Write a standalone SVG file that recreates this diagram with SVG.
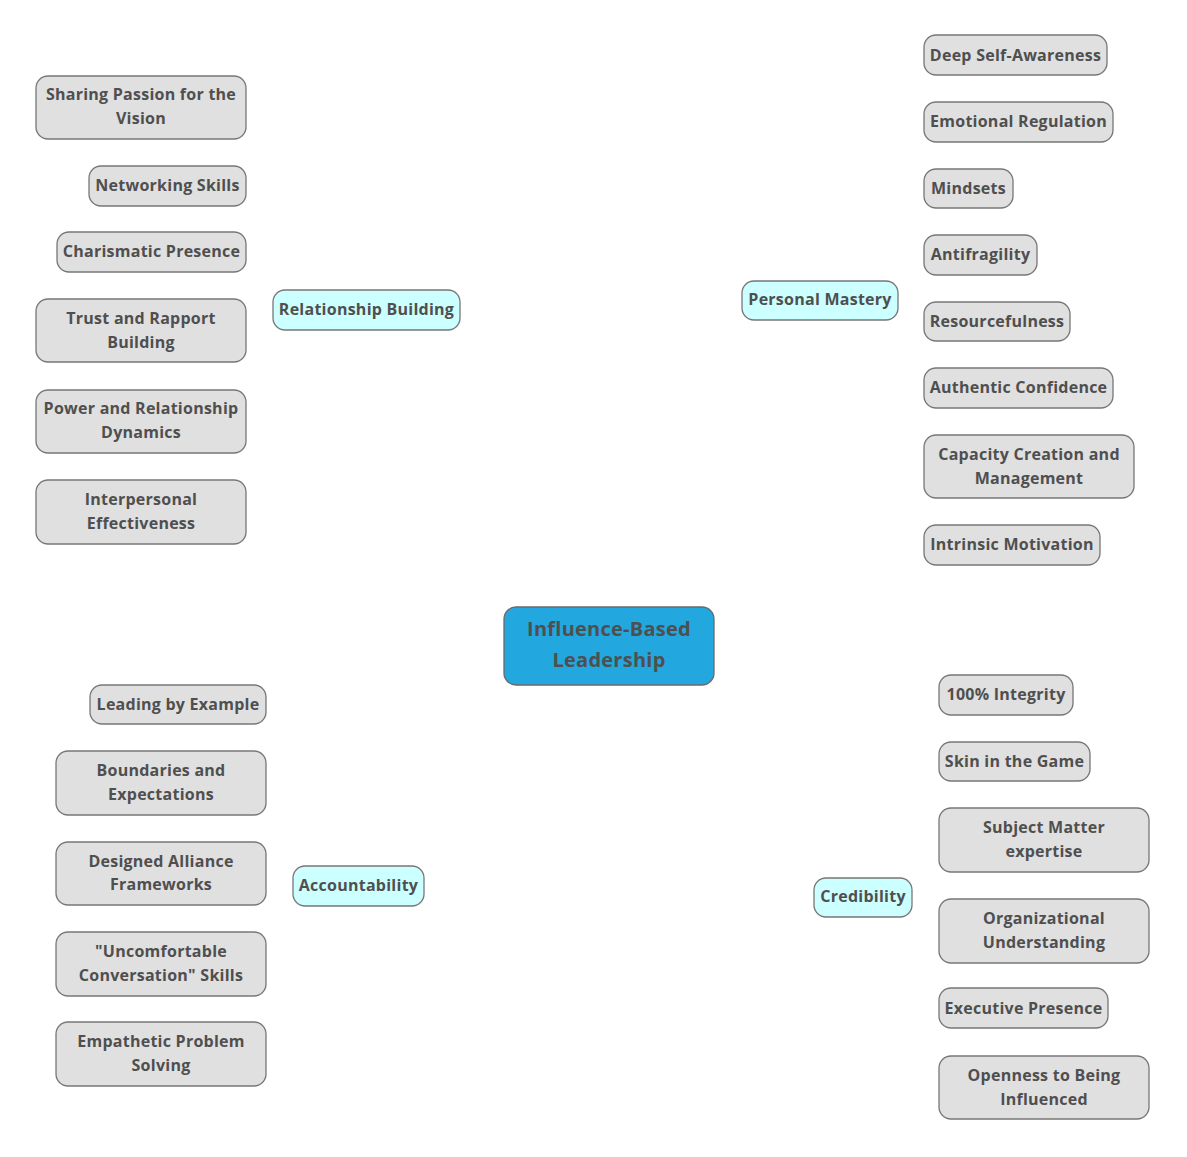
<svg xmlns="http://www.w3.org/2000/svg" width="1187" height="1157" viewBox="0 0 1187 1157">
<style>
.leaf rect{fill:#e0e0e0;stroke:#777777;stroke-width:1.3}
.branch rect{fill:#ccffff;stroke:#777777;stroke-width:1.3}
.root rect{fill:#22a7df;stroke:#6a6a6a;stroke-width:1.3}
text{font-family:"Open Sans","Noto Sans","DejaVu Sans",sans-serif;font-weight:bold;font-size:16px;fill:#4f4f4f;text-anchor:middle;letter-spacing:0.25px}
.root text{font-size:20px}
</style>
<rect width="1187" height="1157" fill="#ffffff"/>
<g id="connectors"></g>
<g id="root" class="root"><rect x="504" y="607" width="210" height="78" rx="12"/><text x="609" y="636">Influence-Based</text><text x="609" y="667">Leadership</text></g>
<g id="relationship-building" class="branch"><rect x="273" y="290" width="187" height="40" rx="12"/><text x="366.5" y="315">Relationship Building</text></g>
<g id="personal-mastery" class="branch"><rect x="742" y="281" width="156" height="39" rx="12"/><text x="820" y="305">Personal Mastery</text></g>
<g id="accountability" class="branch"><rect x="293" y="866" width="131" height="40" rx="12"/><text x="358.5" y="891">Accountability</text></g>
<g id="credibility" class="branch"><rect x="814" y="878" width="98" height="39" rx="12"/><text x="863" y="902">Credibility</text></g>

<g id="sharing-passion" class="leaf"><rect x="36" y="76" width="210" height="63" rx="12"/><text x="141" y="100">Sharing Passion for the</text><text x="141" y="124">Vision</text></g>
<g id="networking-skills" class="leaf"><rect x="89" y="166" width="157" height="40" rx="12"/><text x="167.5" y="191">Networking Skills</text></g>
<g id="charismatic-presence" class="leaf"><rect x="57" y="232" width="189" height="40" rx="12"/><text x="151.5" y="257">Charismatic Presence</text></g>
<g id="trust-rapport" class="leaf"><rect x="36" y="299" width="210" height="63" rx="12"/><text x="141" y="324">Trust and Rapport</text><text x="141" y="348">Building</text></g>
<g id="power-dynamics" class="leaf"><rect x="36" y="390" width="210" height="63" rx="12"/><text x="141" y="414">Power and Relationship</text><text x="141" y="438">Dynamics</text></g>
<g id="interpersonal" class="leaf"><rect x="36" y="480" width="210" height="64" rx="12"/><text x="141" y="505">Interpersonal</text><text x="141" y="529">Effectiveness</text></g>

<g id="deep-self-awareness" class="leaf"><rect x="924" y="35" width="183" height="40" rx="12"/><text x="1015.5" y="61">Deep Self-Awareness</text></g>
<g id="emotional-regulation" class="leaf"><rect x="924" y="102" width="189" height="40" rx="12"/><text x="1018.5" y="127">Emotional Regulation</text></g>
<g id="mindsets" class="leaf"><rect x="924" y="169" width="89" height="39" rx="12"/><text x="968.5" y="194">Mindsets</text></g>
<g id="antifragility" class="leaf"><rect x="924" y="235" width="113" height="40" rx="12"/><text x="980.5" y="260">Antifragility</text></g>
<g id="resourcefulness" class="leaf"><rect x="924" y="302" width="146" height="39" rx="12"/><text x="997" y="327">Resourcefulness</text></g>
<g id="authentic-confidence" class="leaf"><rect x="924" y="368" width="189" height="40" rx="12"/><text x="1018.5" y="393">Authentic Confidence</text></g>
<g id="capacity-creation" class="leaf"><rect x="924" y="435" width="210" height="63" rx="12"/><text x="1029" y="460">Capacity Creation and</text><text x="1029" y="484">Management</text></g>
<g id="intrinsic-motivation" class="leaf"><rect x="924" y="525" width="176" height="40" rx="12"/><text x="1012" y="550">Intrinsic Motivation</text></g>

<g id="leading-by-example" class="leaf"><rect x="90" y="685" width="176" height="39" rx="12"/><text x="178" y="710">Leading by Example</text></g>
<g id="boundaries" class="leaf"><rect x="56" y="751" width="210" height="64" rx="12"/><text x="161" y="776">Boundaries and</text><text x="161" y="800">Expectations</text></g>
<g id="designed-alliance" class="leaf"><rect x="56" y="842" width="210" height="63" rx="12"/><text x="161" y="867">Designed Alliance</text><text x="161" y="890">Frameworks</text></g>
<g id="uncomfortable-conversation" class="leaf"><rect x="56" y="932" width="210" height="64" rx="12"/><text x="161" y="957">"Uncomfortable</text><text x="161" y="981">Conversation" Skills</text></g>
<g id="empathetic-problem-solving" class="leaf"><rect x="56" y="1022" width="210" height="64" rx="12"/><text x="161" y="1047">Empathetic Problem</text><text x="161" y="1071">Solving</text></g>

<g id="integrity" class="leaf"><rect x="939" y="675" width="134" height="40" rx="12"/><text x="1006" y="700">100% Integrity</text></g>
<g id="skin-in-the-game" class="leaf"><rect x="939" y="742" width="151" height="39" rx="12"/><text x="1014.5" y="767">Skin in the Game</text></g>
<g id="subject-matter" class="leaf"><rect x="939" y="808" width="210" height="64" rx="12"/><text x="1044" y="833">Subject Matter</text><text x="1044" y="857">expertise</text></g>
<g id="organizational-understanding" class="leaf"><rect x="939" y="899" width="210" height="64" rx="12"/><text x="1044" y="924">Organizational</text><text x="1044" y="948">Understanding</text></g>
<g id="executive-presence" class="leaf"><rect x="939" y="988" width="169" height="40" rx="12"/><text x="1023.5" y="1014">Executive Presence</text></g>
<g id="openness" class="leaf"><rect x="939" y="1056" width="210" height="63" rx="12"/><text x="1044" y="1081">Openness to Being</text><text x="1044" y="1105">Influenced</text></g>
</svg>
